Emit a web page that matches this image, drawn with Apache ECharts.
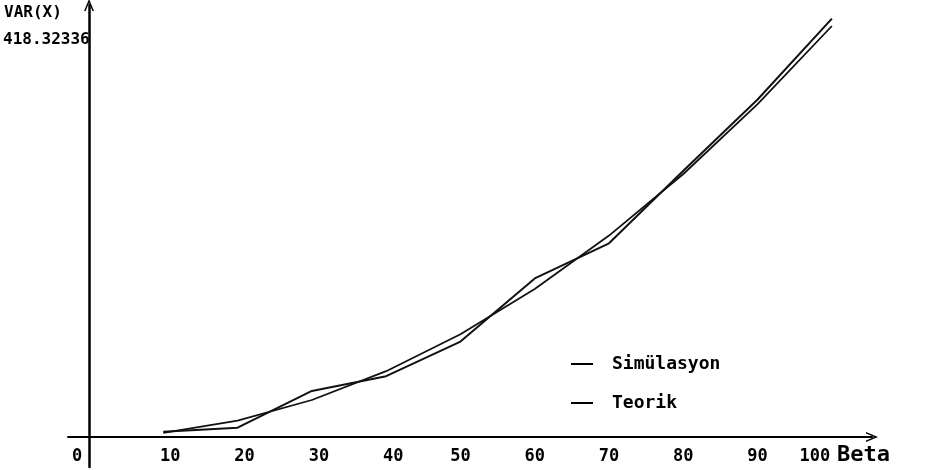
<!DOCTYPE html>
<html>
<head>
<meta charset="utf-8">
<script src="https://cdn.jsdelivr.net/npm/echarts@6/dist/echarts.min.js"></script>
<style>
  html, body { margin: 0; padding: 0; background: #fff; }
  #chart { width: 930px; height: 470px; }
</style>
</head>
<body>
<div id="chart"></div>
<script>
// data
const betaValues = [10, 20, 30, 40, 50, 60, 70, 80, 90, 100]
const simulasyon = [5.2, 9.3, 46.1, 60.8, 95.4, 158.6, 193.7, 266.2, 337.5, 418.32336]
const teorik = [4.1, 16.4, 37.0, 65.8, 102.8, 148.0, 201.4, 263.0, 332.9, 411.0]
const xTickLabels = [0, 10, 20, 30, 40, 50, 60, 70, 80, 90, 100]
const seriesNames = ['Simülasyon', 'Teorik']
const yAxisTitle = 'VAR(X)'
const yMaxText = '418.32336'
const xAxisTitle = 'Beta'

const mono = '"DejaVu Sans Mono", "Liberation Mono", monospace'
const arrowPath = 'path://M0,12 L5,0 L10,12 L8.4,12 L5,3.8 L1.6,12 Z'

function pairs(ys) {
  return betaValues.map((b, i) => [b, ys[i]])
}

// nudge a few labels the way the original program placed them
function labelText(v) {
  if (v === 0) return '{l|0}'
  if (v === 100) return '{e|100}'
  if (v <= 40) return '{r|' + v + '}'
  return '{n|' + v + '}'
}

const labelFont = { fontFamily: mono, fontWeight: 'bold', fontSize: 17, color: '#000' }

const chart = echarts.init(document.getElementById('chart'))
chart.setOption({
  animation: false,
  backgroundColor: '#fff',
  grid: { left: 68, right: 58, top: 5, bottom: 3, outerBoundsMode: 'none', containLabel: false },
  xAxis: {
    type: 'value',
    min: -2.83,
    max: 105.4,
    splitLine: { show: false },
    axisTick: { show: false },
    axisLine: {
      onZero: true,
      symbol: ['none', arrowPath],
      symbolSize: [10, 12],
      lineStyle: { color: '#000', width: 2 }
    },
    axisLabel: {
      customValues: xTickLabels,
      margin: -19,
      formatter: labelText,
      rich: {
        l: Object.assign({ padding: [0, 24, 0, 0] }, labelFont),
        e: Object.assign({ padding: [0, 34, 0, 0] }, labelFont),
        r: Object.assign({ padding: [0, 0, 0, 14] }, labelFont),
        n: Object.assign({}, labelFont)
      }
    }
  },
  yAxis: {
    type: 'value',
    min: -30,
    max: 432,
    splitLine: { show: false },
    axisTick: { show: false },
    axisLabel: { show: false },
    axisLine: {
      onZero: true,
      symbol: ['none', arrowPath],
      symbolSize: [10, 12],
      lineStyle: { color: '#000', width: 2.5 }
    }
  },
  legend: {
    orient: 'vertical',
    left: 566,
    top: 350,
    itemWidth: 22,
    itemHeight: 2,
    itemGap: 21,
    icon: 'rect',
    data: seriesNames,
    textStyle: {
      fontFamily: mono,
      fontWeight: 'bold',
      fontSize: 18,
      color: '#000',
      padding: [0, 0, 0, 14]
    }
  },
  graphic: [
    {
      type: 'text', left: 4, top: 5,
      style: { text: yAxisTitle, font: 'bold 16px ' + mono, fill: '#000' }
    },
    {
      type: 'text', left: 3, top: 32,
      style: { text: yMaxText, font: 'bold 16px ' + mono, fill: '#000' }
    },
    {
      type: 'text', left: 837, top: 444,
      style: { text: xAxisTitle, font: 'bold 22px ' + mono, fill: '#000' }
    }
  ],
  series: [
    {
      name: seriesNames[0],
      type: 'line',
      data: pairs(simulasyon),
      symbol: 'none',
      color: '#000',
      lineStyle: { color: '#111', width: 2 }
    },
    {
      name: seriesNames[1],
      type: 'line',
      data: pairs(teorik),
      symbol: 'none',
      color: '#000',
      lineStyle: { color: '#111', width: 1.8 }
    }
  ]
})
</script>
</body>
</html>
